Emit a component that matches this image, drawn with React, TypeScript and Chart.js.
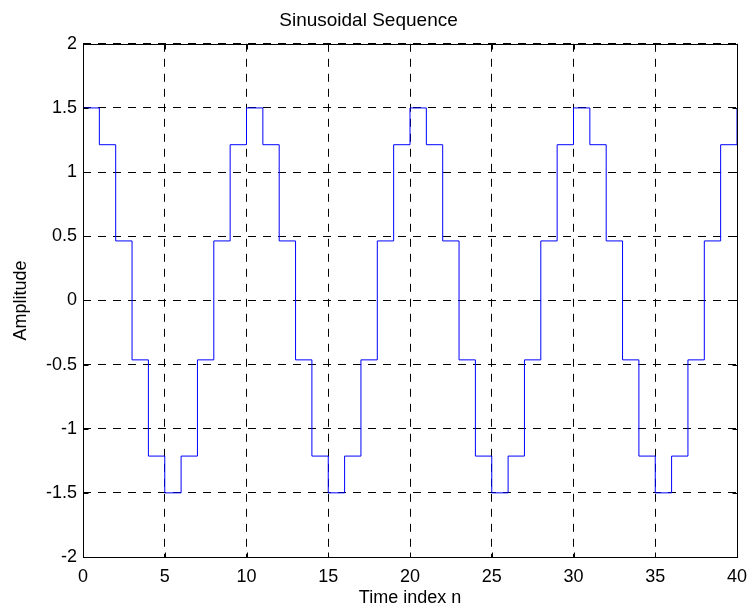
import React, { useEffect, useRef } from "react";
import { Chart, registerables } from "chart.js";

Chart.register(...registerables);

const titleText = "Sinusoidal Sequence";
const xAxisLabel = "Time index n";
const yAxisLabel = "Amplitude";

const timeIndex = [
  0, 1, 2, 3, 4, 5, 6, 7, 8, 9,
  10, 11, 12, 13, 14, 15, 16, 17, 18, 19,
  20, 21, 22, 23, 24, 25, 26, 27, 28, 29,
  30, 31, 32, 33, 34, 35, 36, 37, 38, 39,
  40,
];

const amplitude = [
  1.5, 1.2135, 0.4635, -0.4635, -1.2135, -1.5, -1.2135, -0.4635, 0.4635, 1.2135,
  1.5, 1.2135, 0.4635, -0.4635, -1.2135, -1.5, -1.2135, -0.4635, 0.4635, 1.2135,
  1.5, 1.2135, 0.4635, -0.4635, -1.2135, -1.5, -1.2135, -0.4635, 0.4635, 1.2135,
  1.5, 1.2135, 0.4635, -0.4635, -1.2135, -1.5, -1.2135, -0.4635, 0.4635, 1.2135,
  1.5,
];

const xTickValues = [0, 5, 10, 15, 20, 25, 30, 35, 40];
const xTickLabels = ["0", "5", "10", "15", "20", "25", "30", "35", "40"];
const yTickValues = [-2, -1.5, -1, -0.5, 0, 0.5, 1, 1.5, 2];
const yTickLabels = ["-2", "-1.5", "-1", "-0.5", "0", "0.5", "1", "1.5", "2"];

const FONT = "'Liberation Sans', Arial, Helvetica, sans-serif";

const boxPlugin = {
  id: "matlabBox",
  afterDatasetsDraw(chart: any) {
    const { ctx, chartArea } = chart;
    const { left, right, top, bottom } = chartArea;
    const xs = chart.scales.x;
    const ys = chart.scales.y;
    ctx.save();
    ctx.strokeStyle = "#000";
    ctx.lineWidth = 1;
    ctx.setLineDash([]);
    const L = Math.round(left) + 0.5;
    const R = Math.round(right) + 0.5;
    const T = Math.round(top) + 0.5;
    const B = Math.round(bottom) + 0.5;
    ctx.strokeRect(L, T, R - L, B - T);
    const tl = 5;
    ctx.beginPath();
    xTickValues.forEach((v) => {
      const px = Math.round(xs.getPixelForValue(v)) + 0.5;
      ctx.moveTo(px, B);
      ctx.lineTo(px, B - tl);
      ctx.moveTo(px, T);
      ctx.lineTo(px, T + tl);
    });
    yTickValues.forEach((v) => {
      const py = Math.round(ys.getPixelForValue(v)) + 0.5;
      ctx.moveTo(L, py);
      ctx.lineTo(L + tl, py);
      ctx.moveTo(R, py);
      ctx.lineTo(R - tl, py);
    });
    ctx.stroke();
    ctx.restore();
  },
};

export default function App() {
  const canvasRef = useRef<HTMLCanvasElement | null>(null);

  useEffect(() => {
    const canvas = canvasRef.current;
    if (!canvas) return;
    const points = timeIndex.map((n, i) => ({ x: n, y: amplitude[i] }));
    const chart = new Chart(canvas, {
      type: "line",
      data: {
        datasets: [
          {
            data: points,
            stepped: "before",
            borderColor: "#0000FF",
            borderWidth: 1,
            pointRadius: 0,
            fill: false,
          },
        ],
      },
      options: {
        animation: false,
        responsive: false,
        devicePixelRatio: 1,
        layout: { padding: { left: 0, right: 13, top: 0, bottom: 0 } },
        plugins: {
          legend: { display: false },
          tooltip: { enabled: false },
          title: {
            display: true,
            text: titleText,
            color: "#000",
            font: { family: FONT, size: 19, weight: "normal" },
            padding: { top: 9, bottom: 12 },
          },
        },
        scales: {
          x: {
            type: "linear",
            min: 0,
            max: 40,
            afterBuildTicks: (axis: any) => {
              axis.ticks = xTickValues.map((v) => ({ value: v }));
            },
            afterFit: (axis: any) => {
              axis.height = 52;
              axis.paddingLeft = 0;
              axis.paddingRight = 0;
            },
            ticks: {
              color: "#000",
              font: { family: FONT, size: 18 },
              padding: 9,
              maxRotation: 0,
              callback: (v: any) => {
                const i = xTickValues.indexOf(Number(v));
                return i >= 0 ? xTickLabels[i] : "";
              },
            },
            grid: {
              color: "#000",
              lineWidth: 1,
              drawTicks: false,
              tickLength: 0,
            },
            border: { display: false, dash: [8, 7] },
            title: {
              display: true,
              text: xAxisLabel,
              color: "#000",
              font: { family: FONT, size: 18 },
              padding: { top: 0, bottom: 0 },
            },
          },
          y: {
            type: "linear",
            min: -2,
            max: 2,
            afterBuildTicks: (axis: any) => {
              axis.ticks = yTickValues.map((v) => ({ value: v }));
            },
            afterFit: (axis: any) => {
              axis.width = 83;
              axis.paddingTop = 0;
              axis.paddingBottom = 0;
            },
            ticks: {
              color: "#000",
              font: { family: FONT, size: 18 },
              padding: 6,
              callback: (v: any) => {
                const i = yTickValues.indexOf(Number(v));
                return i >= 0 ? yTickLabels[i] : "";
              },
            },
            grid: {
              color: "#000",
              lineWidth: 1,
              drawTicks: false,
              tickLength: 0,
            },
            border: { display: false, dash: [8, 7] },
            title: {
              display: true,
              text: yAxisLabel,
              color: "#000",
              font: { family: FONT, size: 18 },
              padding: { top: 10, bottom: 0 },
            },
          },
        },
      } as any,
      plugins: [boxPlugin],
    });
    return () => chart.destroy();
  }, []);

  return (
    <div style={{ position: "fixed", left: 0, top: 0, width: 750, height: 609, background: "#fff" }}>
      <canvas ref={canvasRef} width={750} height={609} style={{ width: 750, height: 609, display: "block" }} />
    </div>
  );
}
